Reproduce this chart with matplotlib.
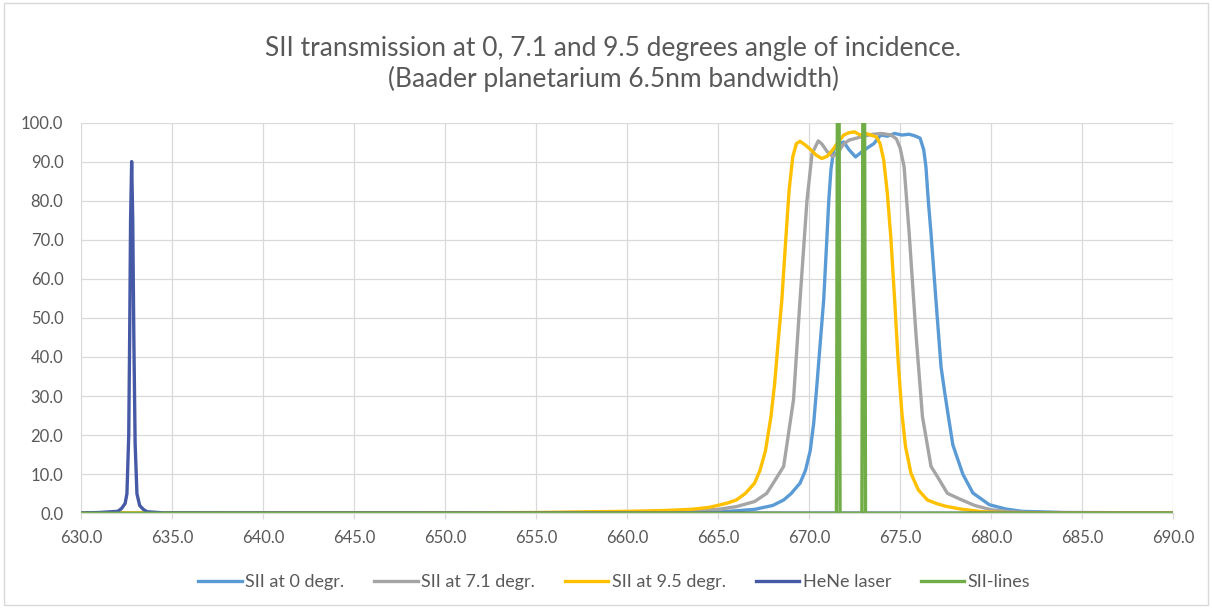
import matplotlib
matplotlib.use("Agg")
import matplotlib.pyplot as plt
from matplotlib.patches import Rectangle

# ---------------- data ----------------
sii0_wl = [630.0, 640.0, 650.0, 660.0, 665.0, 667.0, 668.0, 668.6, 669.0, 669.5, 669.8, 670.06,
           670.25, 670.43, 670.6, 670.8, 670.95, 671.08, 671.2, 671.35, 671.6, 671.9, 672.2,
           672.55, 672.9, 673.2, 673.56, 673.93, 674.3, 674.7, 675.1, 675.5, 675.8, 676.1,
           676.3, 676.42, 676.55, 676.7, 676.97, 677.25, 677.45, 677.63, 677.9, 678.45, 679.0,
           679.9, 680.8, 681.7, 684.0, 690.0]
sii0_t = [0.1, 0.1, 0.1, 0.1, 0.3, 1.0, 2.0, 3.4, 5.0, 7.7, 11.0, 16.0,
          23.0, 33.0, 43.0, 54.6, 68.0, 80.0, 88.0, 93.0, 94.5, 95.0, 93.0,
          91.2, 92.5, 93.5, 94.6, 96.8, 96.5, 97.2, 96.8, 97.0, 96.6, 96.0,
          93.0, 88.7, 80.0, 71.6, 54.6, 37.5, 31.0, 25.5, 17.5, 10.0, 5.2,
          2.2, 1.1, 0.5, 0.2, 0.1]

sii71_wl = [630.0, 640.0, 650.0, 655.0, 660.0, 663.0, 665.0, 666.0, 667.0, 667.67, 668.0, 668.6,
            669.14, 669.5, 669.88, 670.16, 670.5, 670.7, 671.0, 671.3, 671.6, 671.9, 672.2,
            672.6, 673.0, 673.5, 674.0, 674.5, 674.8, 675.0, 675.22, 675.5, 675.87, 676.23,
            676.7, 677.1, 677.6, 678.35, 679.1, 680.0, 681.0, 682.0, 685.0, 690.0]
sii71_t = [0.1, 0.1, 0.1, 0.1, 0.3, 0.5, 1.0, 1.7, 3.0, 5.1, 7.5, 12.0,
           29.0, 54.6, 80.0, 92.0, 95.3, 94.5, 92.5, 91.3, 92.5, 94.5, 95.5,
           96.0, 96.5, 97.0, 97.2, 96.8, 95.8, 93.5, 88.7, 71.6, 46.0, 24.7,
           12.0, 9.0, 5.1, 3.5, 2.0, 0.9, 0.4, 0.2, 0.1, 0.1]

sii95_wl = [630.0, 640.0, 650.0, 655.0, 660.0, 662.0, 663.5, 664.5, 665.5, 666.0, 666.5, 667.0,
            667.3, 667.6, 667.9, 668.1, 668.3, 668.5, 668.7, 668.9, 669.1, 669.3, 669.5,
            669.8, 670.1, 670.4, 670.7, 671.0, 671.3, 671.6, 671.9, 672.2, 672.5, 672.8,
            673.1, 673.4, 673.7, 673.9, 674.1, 674.3, 674.5, 674.7, 674.9, 675.1, 675.3,
            675.6, 676.0, 676.5, 677.0, 677.5, 678.3, 679.5, 681.0, 685.0, 690.0]
sii95_t = [0.1, 0.1, 0.1, 0.2, 0.5, 0.7, 1.0, 1.5, 2.6, 3.4, 5.1, 7.7,
           11.0, 16.0, 24.7, 33.0, 44.0, 54.6, 69.0, 82.7, 91.2, 94.6, 95.2,
           94.2, 93.0, 91.6, 90.8, 91.4, 93.0, 95.0, 96.8, 97.4, 97.6, 96.8,
           97.2, 96.8, 96.3, 94.6, 90.4, 81.8, 70.0, 54.6, 38.4, 25.6, 17.0,
           10.2, 6.0, 3.4, 2.5, 1.8, 1.1, 0.4, 0.15, 0.1, 0.1]

hene_wl = [630.0, 631.0, 632.0, 632.2, 632.4, 632.5, 632.6, 632.65, 632.7, 632.76, 632.82,
           632.88, 632.95, 633.05, 633.2, 633.4, 633.6, 634.5, 690.0]
hene_t = [0.1, 0.2, 0.5, 1.2, 2.5, 5.0, 20.0, 45.0, 75.0, 90.0, 75.0,
          45.0, 18.0, 5.0, 2.0, 1.0, 0.4, 0.1, 0.0]

siilines_wl = [630.0, 671.5, 671.55, 671.65, 671.7, 672.9, 672.95, 673.05, 673.1, 690.0]
siilines_t = [0.0, 0.0, 100.0, 100.0, 0.0, 0.0, 100.0, 100.0, 0.0, 0.0]

series_names = ["SII at 0 degr.", "SII at 7.1 degr.", "SII at 9.5 degr.", "HeNe laser", "SII-lines"]
x_ticks = [630.0, 635.0, 640.0, 645.0, 650.0, 655.0, 660.0, 665.0, 670.0, 675.0, 680.0, 685.0, 690.0]
y_ticks = [0.0, 10.0, 20.0, 30.0, 40.0, 50.0, 60.0, 70.0, 80.0, 90.0, 100.0]
title_text = "SII transmission at 0, 7.1 and 9.5 degrees angle of incidence.\n(Baader planetarium 6.5nm bandwidth)"

# ---------------- style ----------------
colors = ["#5B9BD5", "#A5A5A5", "#FFC000", "#4659A6", "#70AD47"]
txt_color = "#595959"
grid_color = "#D9D9D9"
plt.rcParams['font.family'] = ['Lato', 'DejaVu Sans']

fig = plt.figure(figsize=(12.12, 6.08), dpi=100)
ax = fig.add_axes([0.0672, 0.1558, 0.9006, 0.6427])

data = [(sii0_wl, sii0_t), (sii71_wl, sii71_t), (sii95_wl, sii95_t),
        (hene_wl, hene_t), (siilines_wl, siilines_t)]
for (xs, ys), c, name in zip(data, colors, series_names):
    ax.plot(xs, ys, color=c, lw=2.4, label=name, solid_joinstyle='round')

ax.set_xlim(630, 690)
ax.set_ylim(0, 100)
ax.set_xticks(x_ticks)
ax.set_xticklabels([f"{v:.1f}" for v in x_ticks])
ax.set_yticks(y_ticks)
ax.set_yticklabels([f"{v:.1f}" for v in y_ticks])
ax.grid(True, color=grid_color, lw=0.9)
ax.set_axisbelow(True)
for s in ["top", "right", "left"]:
    ax.spines[s].set_visible(False)
ax.spines["bottom"].set_color(grid_color)
ax.tick_params(axis='x', colors=grid_color, length=4, width=0.9, labelcolor=txt_color,
               labelsize=12, pad=8)
ax.tick_params(axis='y', length=0, labelcolor=txt_color, labelsize=12, pad=13)

fig.text(0.506, 0.895, title_text, ha='center', va='center', fontsize=19,
         color=txt_color, linespacing=1.2)

leg = fig.legend(loc='center', bbox_to_anchor=(0.507, 0.043), ncol=5, frameon=False,
                 fontsize=13, handlelength=2.4, handletextpad=0.2, columnspacing=1.65)
for t in leg.get_texts():
    t.set_color(txt_color)

fig.patches.append(Rectangle((0.003, 0.005), 0.994, 0.99, transform=fig.transFigure,
                             fill=False, edgecolor=grid_color, lw=1.0))

fig.savefig("out.png", dpi=100, facecolor="white")
